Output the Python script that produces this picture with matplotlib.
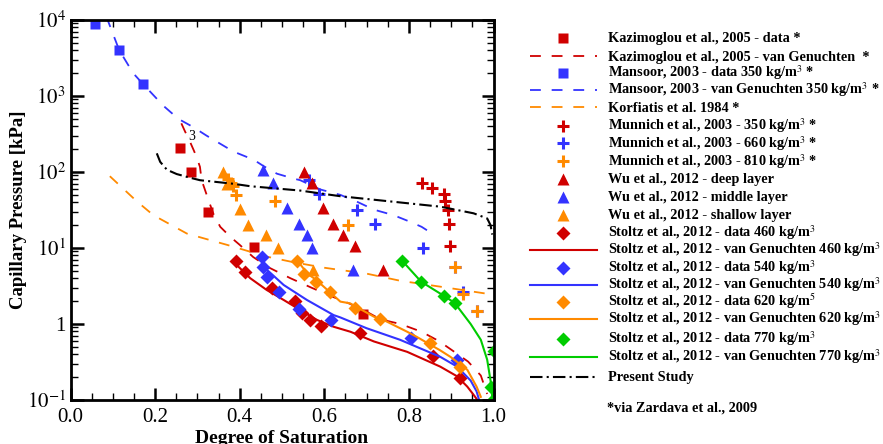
import matplotlib
matplotlib.use("Agg")
import matplotlib.pyplot as plt
import numpy as np

plt.rcParams['font.family'] = ['Liberation Serif', 'DejaVu Serif']
plt.rcParams['mathtext.fontset'] = 'stix'

RED = '#d00000'
BLUE = '#3333ff'
ORANGE = '#ff8a00'
GREEN = '#00cc00'

# Kazimoglou et al., 2005
kaz_x = [0.259, 0.284, 0.326, 0.433, 0.692]
kaz_y = [205, 99, 30, 10.4, 1.36]
kazvg_x = [0.262, 0.271, 0.279, 0.291, 0.298, 0.306, 0.310, 0.318, 0.326, 0.338, 0.354, 0.378,
           0.40, 0.432, 0.47, 0.52, 0.57, 0.61, 0.66, 0.70, 0.733, 0.78, 0.83, 0.87, 0.90,
           0.94, 0.97, 0.985]
kazvg_y = [437, 339, 277, 195, 158, 117, 78, 58, 43, 28, 19, 14,
           11, 7.6, 5.5, 4.0, 3.0, 2.4, 1.85, 1.45, 1.15, 1.0, 0.79, 0.6, 0.46,
           0.32, 0.21, 0.12]

# Mansoor, 2003
man_x = [0.058, 0.115, 0.172]
man_y = [8850, 4030, 1425]
manvg_x = [0.085, 0.115, 0.148, 0.172, 0.22, 0.255, 0.29, 0.322, 0.346, 0.385, 0.433, 0.456,
           0.488, 0.527, 0.543, 0.59, 0.638, 0.68, 0.717, 0.764, 0.804, 0.83, 0.851]
manvg_y = [11000, 4030, 2000, 1425, 740, 500, 390, 300, 250, 186, 145, 120,
           95, 82, 78, 59, 50, 40, 32, 27, 22, 19, 16]

# Korfiatis et al. 1984
kor_x = [0.093, 0.157, 0.196, 0.275, 0.33, 0.37, 0.464, 0.527, 0.6, 0.7, 0.78, 0.874, 0.985]
kor_y = [88, 41, 27, 15.5, 12.7, 11, 7.7, 6.5, 5.5, 4.6, 3.7, 3.1, 2.5]

# Munnich et al., 2003
mun350_x = [0.831, 0.855, 0.882, 0.886, 0.892, 0.894, 0.896]
mun350_y = [72, 62, 52, 41, 32, 21, 10.6]
mun660_x = [0.563, 0.587, 0.677, 0.72, 0.834, 0.908, 0.928, 0.96]
mun660_y = [78, 51, 32, 21, 10, 5.6, 2.6, 1.5]
mun810_x = [0.372, 0.38, 0.385, 0.392, 0.484, 0.657, 0.908, 0.928, 0.96]
mun810_y = [80, 72, 65, 50, 42, 20, 5.6, 2.5, 1.5]

# Wu et al., 2012
wud_x = [0.551, 0.571, 0.598, 0.62, 0.644, 0.673, 0.739]
wud_y = [100, 72, 34, 21, 15, 10.5, 5.1]
wum_x = [0.456, 0.478, 0.512, 0.541, 0.559, 0.571, 0.669]
wum_y = [105, 72, 34, 21, 15, 10, 5.1]
wus_x = [0.36, 0.37, 0.401, 0.42, 0.462, 0.49, 0.574]
wus_y = [100, 70, 33, 20, 15, 10, 5.1]

# Stoltz et al., 2012
s460_x = [0.392, 0.413, 0.476, 0.53, 0.547, 0.567, 0.593, 0.684, 0.856, 0.92]
s460_y = [6.8, 4.9, 2.95, 2.0, 1.38, 1.13, 0.94, 0.76, 0.38, 0.195]
s460vg_x = [0.385, 0.425, 0.464, 0.504, 0.543, 0.583, 0.622, 0.662, 0.717, 0.796, 0.874,
            0.914, 0.938, 0.953, 0.962]
s460vg_y = [6.6, 4.0, 2.8, 2.07, 1.53, 1.13, 0.92, 0.79, 0.59, 0.43, 0.275,
            0.205, 0.15, 0.117, 0.1]
s540_x = [0.453, 0.455, 0.464, 0.494, 0.541, 0.617, 0.805, 0.914]
s540_y = [7.5, 5.7, 4.1, 2.66, 1.58, 1.13, 0.66, 0.34]
s540vg_x = [0.456, 0.504, 0.559, 0.622, 0.638, 0.70, 0.779, 0.874, 0.914, 0.946, 0.96, 0.966]
s540vg_y = [5.7, 3.26, 2.07, 1.31, 1.22, 0.88, 0.62, 0.37, 0.275, 0.18, 0.13, 0.1]
s620_x = [0.535, 0.553, 0.581, 0.614, 0.673, 0.731, 0.851, 0.92]
s620_y = [6.8, 4.55, 3.6, 2.66, 1.6, 1.15, 0.57, 0.275]
s620vg_x = [0.535, 0.56, 0.581, 0.638, 0.661, 0.717, 0.74, 0.796, 0.818, 0.874, 0.898,
            0.938, 0.96, 0.97]
s620vg_y = [7.0, 4.6, 3.8, 1.97, 1.87, 1.25, 1.13, 0.79, 0.68, 0.45, 0.37,
            0.25, 0.15, 0.11]
s770_x = [0.784, 0.829, 0.882, 0.908, 1.0, 0.994, 0.998]
s770_y = [6.8, 3.6, 2.36, 1.9, 0.44, 0.15, 0.10]
s770vg_x = [0.784, 0.829, 0.882, 0.908, 0.946, 0.97, 0.985, 0.993, 0.997]
s770vg_y = [6.8, 3.6, 2.36, 1.9, 1.0, 0.62, 0.34, 0.18, 0.11]

# Present study
pres_x = [0.204, 0.212, 0.228, 0.251, 0.283, 0.306, 0.385, 0.425, 0.543, 0.638, 0.756,
          0.874, 0.953, 0.985, 0.993, 0.997]
pres_y = [176, 136, 107, 94, 84, 78, 70, 65, 57, 48, 41,
          35, 28.6, 24.5, 20, 15]

fig = plt.figure(figsize=(8.83, 4.44), dpi=100)
ax = fig.add_axes([70.5 / 883, 1 - 400 / 444, 423 / 883, 380 / 444])

dash = (6, 6)
dashdot = (6, 2, 1, 2)
sq = dict(marker='s', ms=7.5, ls='none', mec='none')
cr = dict(marker='+', ms=8, ls='none', mew=2.2)
tr = dict(marker='^', ms=8, ls='none', mec='none')
dm = dict(marker='D', ms=7.5, ls='none', mec='none')
dl = dict(lw=1.3, dashes=dash)
sl = dict(lw=1.5)

# (x, y, colour, style, label)
series = [
    (kaz_x, kaz_y, RED, sq, 'Kazimoglou et al., 2005 - data *'),
    (kazvg_x, kazvg_y, RED, dl, 'Kazimoglou et al., 2005 - van Genuchten  *'),
    (man_x, man_y, BLUE, sq, 'Mansoor, 2003 - data 350 kg/m$^3$ *'),
    (manvg_x, manvg_y, BLUE, dl, 'Mansoor, 2003 - van Genuchten 350 kg/m$^3$ *'),
    (kor_x, kor_y, ORANGE, dl, 'Korfiatis et al. 1984 *'),
    (mun350_x, mun350_y, RED, cr, 'Munnich et al., 2003 - 350 kg/m$^3$ *'),
    (mun660_x, mun660_y, BLUE, cr, 'Munnich et al., 2003 - 660 kg/m$^3$ *'),
    (mun810_x, mun810_y, ORANGE, cr, 'Munnich et al., 2003 - 810 kg/m$^3$ *'),
    (wud_x, wud_y, RED, tr, 'Wu et al., 2012 - deep layer'),
    (wum_x, wum_y, BLUE, tr, 'Wu et al., 2012 - middle layer'),
    (wus_x, wus_y, ORANGE, tr, 'Wu et al., 2012 - shallow layer'),
    (s460_x, s460_y, RED, dm, 'Stoltz et al., 2012 - data 460 kg/m$^3$'),
    (s460vg_x, s460vg_y, RED, sl, 'Stoltz et al., 2012 - van Genuchten 460 kg/m$^3$'),
    (s540_x, s540_y, BLUE, dm, 'Stoltz et al., 2012 - data 540 kg/m$^3$'),
    (s540vg_x, s540vg_y, BLUE, sl, 'Stoltz et al., 2012 - van Genuchten 540 kg/m$^3$'),
    (s620_x, s620_y, ORANGE, dm, 'Stoltz et al., 2012 - data 620 kg/m$^5$'),
    (s620vg_x, s620vg_y, ORANGE, sl, 'Stoltz et al., 2012 - van Genuchten 620 kg/m$^3$'),
    (s770_x, s770_y, GREEN, dm, 'Stoltz et al., 2012 - data 770 kg/m$^3$'),
    (s770vg_x, s770vg_y, GREEN, sl, 'Stoltz et al., 2012 - van Genuchten 770 kg/m$^3$'),
    (pres_x, pres_y, 'black', dict(lw=1.5, dashes=dashdot), 'Present Study'),
]

for x, y, c, st, lab in series:
    ax.plot(x, y, color=c, **st)

ax.text(0.287, 292, '3', fontsize=10, ha='center', va='center')

ax.set_yscale('log')
ax.set_xlim(0, 1)
ax.set_ylim(0.1, 1e4)
ax.set_xticks(np.arange(0, 1.01, 0.2))
ax.set_xticklabels(['0.0', '0.2', '0.4', '0.6', '0.8', '1.0'])
ax.set_xticks(np.arange(0, 1.001, 0.05), minor=True)
ax.set_yticks([0.1, 1, 10, 100, 1000, 10000])
ax.set_yticklabels(['$10^{-1}$', '1', '$10^{1}$', '$10^{2}$', '$10^{3}$', '$10^{4}$'])
ax.tick_params(which='both', direction='in', top=True, right=True, labelsize=15)
ax.tick_params(which='major', length=9, width=1.8)
ax.tick_params(axis='x', pad=6)
ax.tick_params(which='minor', length=5, width=1)
for s in ax.spines.values():
    s.set_linewidth(2)

ax.set_xlabel('Degree of Saturation', fontsize=14, fontweight='bold', labelpad=2)
ax.set_ylabel('Capillary Pressure [kPa]', fontsize=13.5, fontweight='bold')
ax.yaxis.set_label_coords(-0.103, 0.5)

# legend drawn row by row in pixel coordinates
lax = fig.add_axes([0, 0, 1, 1])
lax.set_xlim(0, 883)
lax.set_ylim(444, 0)
lax.axis('off')
row_y = [38, 56.5, 73, 90, 107.5, 126, 143.5, 161.5, 179, 197, 214.5, 232.5, 250,
         267.5, 285, 301.5, 319, 338.5, 356.5, 376.5]
for (x, y, c, st, lab), ry in zip(series, row_y):
    if st.get('ls') == 'none':
        lax.plot([563], [ry], color=c, **st)
    else:
        lax.plot([530, 597], [ry, ry], color=c, **st)
    lax.text(608, ry + 4, lab, fontsize=10.3, fontweight='bold', va='baseline')
lax.text(607, 412, '*via Zardava et al., 2009', fontsize=10.3, fontweight='bold',
         va='baseline')

fig.savefig('out.png', dpi=100)
